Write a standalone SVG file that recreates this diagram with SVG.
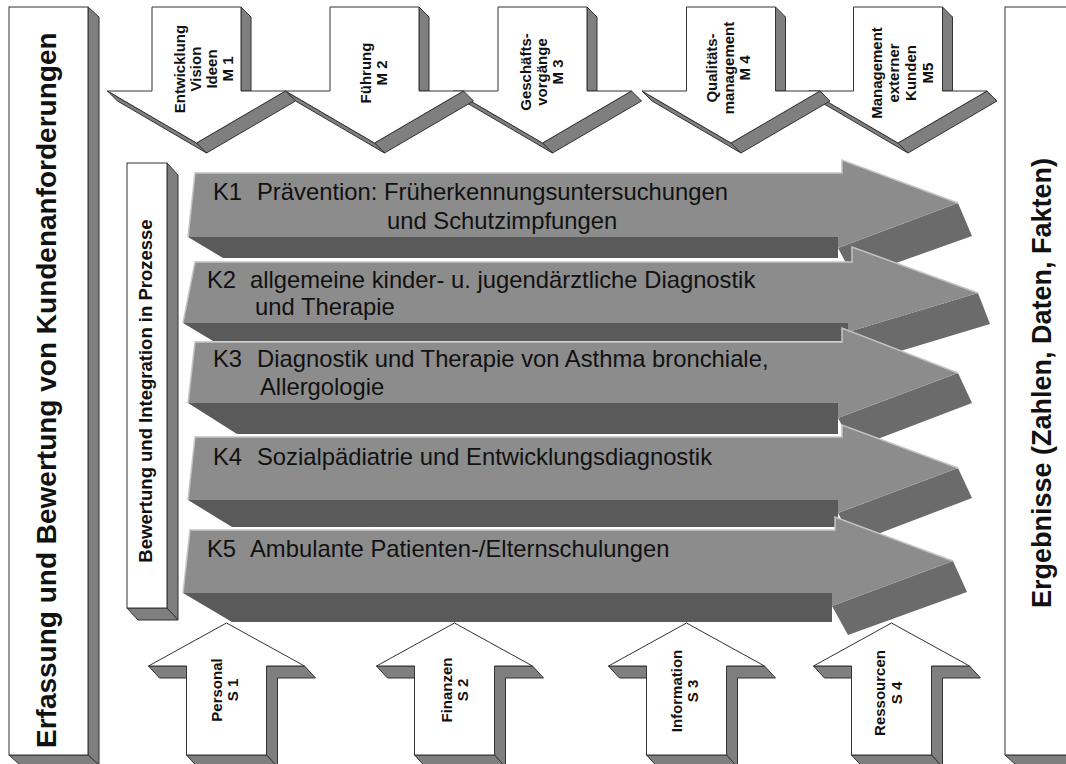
<svg xmlns="http://www.w3.org/2000/svg" width="1066" height="764" viewBox="0 0 1066 764">
<style>
.wf{fill:#fff;stroke:#333;stroke-width:1}
.gs{fill:#7f7f7f;stroke:#333;stroke-width:1}
.kf{fill:#8c8c8c}
.kb{fill:#5a5a5a}
.ks{fill:#6b6b6b}
.kh{fill:none;stroke:#c4c4c4;stroke-width:1.5}
.bt{font-family:"Liberation Sans",Arial,sans-serif;font-weight:bold;fill:#111}
.mt{font-family:"Liberation Sans",Arial,sans-serif;font-weight:bold;font-size:15px;fill:#111;text-anchor:middle}
.kt{font-family:"Liberation Sans",Arial,sans-serif;font-size:23.8px;fill:#111}
</style>
<rect width="1066" height="764" fill="#fff"/>

<g id="left-bar">
<polygon class="gs" points="88,7 99,17 99,765 88,755"/>
<polygon class="gs" points="9,755 88,755 99,765 20,765"/>
<rect class="wf" x="9" y="7" width="79" height="748"/>
<text class="bt" font-size="28" transform="translate(56,748) rotate(-90)">Erfassung und Bewertung von Kundenanforderungen</text>
</g>

<g id="right-bar">
<polygon class="gs" points="1005,755 1075,755 1086,765 1016,765"/>
<rect class="wf" x="1005" y="7" width="70" height="748"/>
<text class="bt" font-size="27" transform="translate(1051,608) rotate(-90)">Ergebnisse (Zahlen, Daten, Fakten)</text>
</g>

<g id="m5">
<polygon class="gs" points="942.5,7 952.5,17 952.5,91 942.5,91"/>
<polygon class="gs" points="987,91 898,143 908,153 997,101"/>
<polygon class="gs" points="809,91 898,143 908,153 819,101"/>
<polygon class="wf" points="853.5,7 942.5,7 942.5,91 987,91 898,143 809,91 853.5,91"/>
<text class="mt" transform="translate(882,73) rotate(-90)">Management</text>
<text class="mt" transform="translate(899,73) rotate(-90)">externer</text>
<text class="mt" transform="translate(916,73) rotate(-90)">Kunden</text>
<text class="mt" transform="translate(933,73) rotate(-90)">M5</text>
</g>

<g id="m4">
<polygon class="gs" points="775.5,7 785.5,17 785.5,91 775.5,91"/>
<polygon class="gs" points="820,91 731,143 741,153 830,101"/>
<polygon class="gs" points="642,91 731,143 741,153 652,101"/>
<polygon class="wf" points="686.5,7 775.5,7 775.5,91 820,91 731,143 642,91 686.5,91"/>
<text class="mt" transform="translate(717,68) rotate(-90)">Qualitäts-</text>
<text class="mt" transform="translate(733.5,68) rotate(-90)">management</text>
<text class="mt" transform="translate(750,68) rotate(-90)">M 4</text>
</g>

<g id="m3">
<polygon class="gs" points="587,7 597,17 597,91 587,91"/>
<polygon class="gs" points="631.5,91 542.5,143 552.5,153 641.5,101"/>
<polygon class="gs" points="453.5,91 542.5,143 552.5,153 463.5,101"/>
<polygon class="wf" points="498,7 587,7 587,91 631.5,91 542.5,143 453.5,91 498,91"/>
<text class="mt" transform="translate(531,72) rotate(-90)">Geschäfts-</text>
<text class="mt" transform="translate(547,72) rotate(-90)">vorgänge</text>
<text class="mt" transform="translate(563,72) rotate(-90)">M 3</text>
</g>

<g id="m2">
<polygon class="gs" points="419,7 429,17 429,91 419,91"/>
<polygon class="gs" points="463.5,91 374.5,143 384.5,153 473.5,101"/>
<polygon class="gs" points="285.5,91 374.5,143 384.5,153 295.5,101"/>
<polygon class="wf" points="330,7 419,7 419,91 463.5,91 374.5,143 285.5,91 330,91"/>
<text class="mt" transform="translate(371,73) rotate(-90)">Führung</text>
<text class="mt" transform="translate(387,73) rotate(-90)">M 2</text>
</g>

<g id="m1">
<polygon class="gs" points="241,7 251,17 251,91 241,91"/>
<polygon class="gs" points="285.5,91 196.5,143 206.5,153 295.5,101"/>
<polygon class="gs" points="107.5,91 196.5,143 206.5,153 117.5,101"/>
<polygon class="wf" points="152,7 241,7 241,91 285.5,91 196.5,143 107.5,91 152,91"/>
<text class="mt" transform="translate(185,69) rotate(-90)">Entwicklung</text>
<text class="mt" transform="translate(201,69) rotate(-90)">Vision</text>
<text class="mt" transform="translate(217,69) rotate(-90)">Ideen</text>
<text class="mt" transform="translate(233,69) rotate(-90)">M 1</text>
</g>

<g id="bewertung">
<polygon class="gs" points="167,163 178,175 178,620 167,608"/>
<polygon class="gs" points="127,608 167,608 178,620 138,620"/>
<rect class="wf" x="127" y="163" width="40" height="445"/>
<text class="bt" font-size="18.5" text-anchor="middle" transform="translate(152,391) rotate(-90)">Bewertung und Integration in Prozesse</text>
</g>

<g id="k1">
<polygon class="ks" points="838,248 958,203 972,236 854,278"/>
<polygon class="kb" points="188,237 838,237 838,258 223,258"/>
<polygon class="kf" points="195,173 842,173 842,160 958,203 838,248 838,237 188,237"/>
<polyline class="kh" points="188,237 195,173 842,173 842,160 958,203"/>
<text class="kt" x="213" y="200">K1</text>
<text class="kt" x="257" y="200">Prävention: Früherkennungsuntersuchungen</text>
<text class="kt" x="387" y="229">und Schutzimpfungen</text>
</g>

<g id="k2">
<polygon class="ks" points="848,332 978,293 990,324 864,362"/>
<polygon class="kb" points="183,323 848,323 848,341 213,341"/>
<polygon class="kf" points="195,262 852,262 852,247 978,293 848,332 848,323 183,323"/>
<polyline class="kh" points="183,323 195,262 852,262 852,247 978,293"/>
<text class="kt" x="207" y="288">K2</text>
<text class="kt" x="250" y="288">allgemeine kinder- u. jugendärztliche Diagnostik</text>
<text class="kt" x="255" y="315">und Therapie</text>
</g>

<g id="k3">
<polygon class="ks" points="838,418 958,373 972,403 854,448"/>
<polygon class="kb" points="188,403 838,403 838,434 237,434"/>
<polygon class="kf" points="195,342 842,342 842,328 958,373 838,418 838,403 188,403"/>
<polyline class="kh" points="188,403 195,342 842,342 842,328 958,373"/>
<text class="kt" x="213" y="367">K3</text>
<text class="kt" x="257" y="367">Diagnostik und Therapie von Asthma bronchiale,</text>
<text class="kt" x="260" y="395">Allergologie</text>
</g>

<g id="k4">
<polygon class="ks" points="838,513 958,468 972,498 854,543"/>
<polygon class="kb" points="188,500 838,500 838,527 232,527"/>
<polygon class="kf" points="195,437 842,437 842,425 958,468 838,513 838,500 188,500"/>
<polyline class="kh" points="188,500 195,437 842,437 842,425 958,468"/>
<text class="kt" x="213" y="465">K4</text>
<text class="kt" x="257" y="465">Sozialpädiatrie und Entwicklungsdiagnostik</text>
</g>

<g id="k5">
<polygon class="ks" points="832,606 953,561 967,592 848,635"/>
<polygon class="kb" points="183,593 832,593 832,622 232,622"/>
<polygon class="kf" points="190,530 835,530 835,517 953,561 832,606 832,593 183,593"/>
<polyline class="kh" points="183,593 190,530 835,530 835,517 953,561"/>
<text class="kt" x="207" y="557">K5</text>
<text class="kt" x="250" y="557">Ambulante Patienten-/Elternschulungen</text>
</g>

<g id="s1">
<polygon class="gs" points="148.5,666 186.5,666 186.5,678 159.5,678"/>
<polygon class="gs" points="266.5,666 304.5,666 315.5,678 277.5,678 277.5,767 266.5,755"/>
<polygon class="gs" points="186.5,755 266.5,755 277.5,767 197.5,767"/>
<polygon class="wf" points="226.5,623 304.5,666 266.5,666 266.5,755 186.5,755 186.5,666 148.5,666"/>
<text class="mt" transform="translate(222,690) rotate(-90)">Personal</text>
<text class="mt" transform="translate(238,690) rotate(-90)">S 1</text>
</g>

<g id="s2">
<polygon class="gs" points="376.5,666 414.5,666 414.5,678 387.5,678"/>
<polygon class="gs" points="494.5,666 532.5,666 543.5,678 505.5,678 505.5,767 494.5,755"/>
<polygon class="gs" points="414.5,755 494.5,755 505.5,767 425.5,767"/>
<polygon class="wf" points="454.5,623 532.5,666 494.5,666 494.5,755 414.5,755 414.5,666 376.5,666"/>
<text class="mt" transform="translate(452,690) rotate(-90)">Finanzen</text>
<text class="mt" transform="translate(468,690) rotate(-90)">S 2</text>
</g>

<g id="s3">
<polygon class="gs" points="608.5,666 646.5,666 646.5,678 619.5,678"/>
<polygon class="gs" points="726.5,666 764.5,666 775.5,678 737.5,678 737.5,767 726.5,755"/>
<polygon class="gs" points="646.5,755 726.5,755 737.5,767 657.5,767"/>
<polygon class="wf" points="686.5,623 764.5,666 726.5,666 726.5,755 646.5,755 646.5,666 608.5,666"/>
<text class="mt" transform="translate(682,691) rotate(-90)">Information</text>
<text class="mt" transform="translate(698,691) rotate(-90)">S 3</text>
</g>

<g id="s4">
<polygon class="gs" points="813.5,666 851.5,666 851.5,678 824.5,678"/>
<polygon class="gs" points="931.5,666 969.5,666 980.5,678 942.5,678 942.5,767 931.5,755"/>
<polygon class="gs" points="851.5,755 931.5,755 942.5,767 862.5,767"/>
<polygon class="wf" points="891.5,623 969.5,666 931.5,666 931.5,755 851.5,755 851.5,666 813.5,666"/>
<text class="mt" transform="translate(885,693) rotate(-90)">Ressourcen</text>
<text class="mt" transform="translate(902,693) rotate(-90)">S 4</text>
</g>

<g id="connectors"></g>
</svg>
